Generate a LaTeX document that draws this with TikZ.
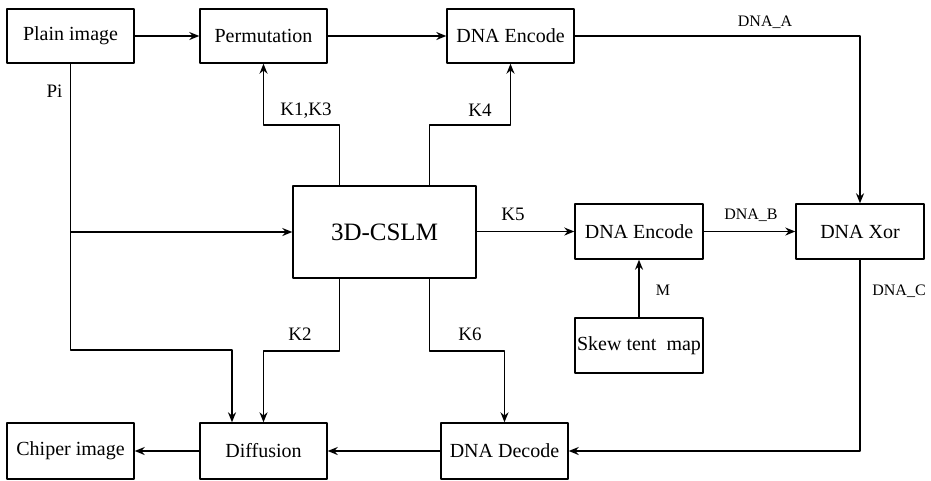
\documentclass[tikz,border=0pt]{standalone}
\usepackage{fontspec}
\setmainfont{Liberation Serif}
\usetikzlibrary{arrows.meta}
\tikzset{
  blockbox/.style={draw, line width=1.4pt, inner sep=0pt, minimum width=127pt, minimum height=54pt, font=\fontsize{20}{24}\selectfont},
  keylab/.style={inner sep=0pt, font=\fontsize{19}{22}\selectfont},
  dnalab/.style={inner sep=0pt, font=\fontsize{16}{19}\selectfont},
}
\begin{document}
\begin{tikzpicture}[x=1pt, y=-1pt, line width=1.4pt, line join=round, >={Stealth[length=10pt,width=8pt]}]
  \useasboundingbox (0,0) rectangle (931,480);
  % blocks
  \node[blockbox] (plain) at (70.5,36) {Plain image};
  \node[blockbox] (perm) at (263.5,36) {Permutation};
  \node[blockbox] (encA) at (510.5,36) {DNA Encode};
  \node[blockbox, minimum width=183pt, minimum height=92pt, font=\fontsize{25}{30}\selectfont] (cslm) at (384.5,232) {3D-CSLM};
  \node[blockbox, minimum width=128pt, minimum height=55pt] (encB) at (639,231.5) {DNA Encode};
  \node[blockbox, minimum width=128pt, minimum height=55pt] (xor) at (860,231.5) {DNA Xor};
  \node[blockbox, minimum width=128pt, minimum height=55pt] (skew) at (639,345.5) {Skew tent\ \ map};
  \node[blockbox, minimum height=56pt] (chip) at (70.5,451) {Chiper image};
  \node[blockbox, minimum height=56pt] (diff) at (263.5,451) {Diffusion};
  \node[blockbox, minimum height=56pt] (dec) at (504.5,451) {DNA Decode};
  % connectors
  \draw[->] (plain) -- (perm);
  \draw[->] (perm) -- (encA);
  \draw[->] (plain.south) |- ([xshift=-31.5pt]diff.north |- 0,350) -- ([xshift=-31.5pt]diff.north);
  \draw[->] (plain.south |- cslm.west) -- (cslm.west);
  \draw[->] ([xshift=-45pt]cslm.north) |- (perm.south |- 0,125) -- (perm.south);
  \draw[->] ([xshift=45pt]cslm.north) |- (encA.south |- 0,125) -- (encA.south);
  \draw[->] ([xshift=-45pt]cslm.south) |- (diff.north |- 0,351) -- (diff.north);
  \draw[->] ([xshift=45pt]cslm.south) |- (dec.north |- 0,351) -- (dec.north);
  \draw[->] (cslm.east |- encB.west) -- (encB.west);
  \draw[->] (encB) -- (xor);
  \draw[->] (skew) -- (encB);
  \draw[->] (encA.east) -| (xor.north);
  \draw[->] (xor.south) |- (dec.east);
  \draw[->] (dec) -- (diff);
  \draw[->] (diff) -- (chip);
  % labels
  \node[keylab] (pi) at (54.5,91) {Pi};
  \node[keylab] (k13) at (306,111) {K1,K3};
  \node[keylab] (k4) at (480,110) {K4};
  \node[keylab] (k5) at (513,214) {K5};
  \node[keylab] (k2) at (300,334) {K2};
  \node[keylab] (k6) at (470,334) {K6};
  \node[dnalab] (la) at (765,22) {DNA\_A};
  \node[dnalab] (lb) at (751,215) {DNA\_B};
  \node[dnalab] (lc) at (899,291) {DNA\_C};
  \node[dnalab] (lm) at (663,290) {M};
\end{tikzpicture}
\end{document}
